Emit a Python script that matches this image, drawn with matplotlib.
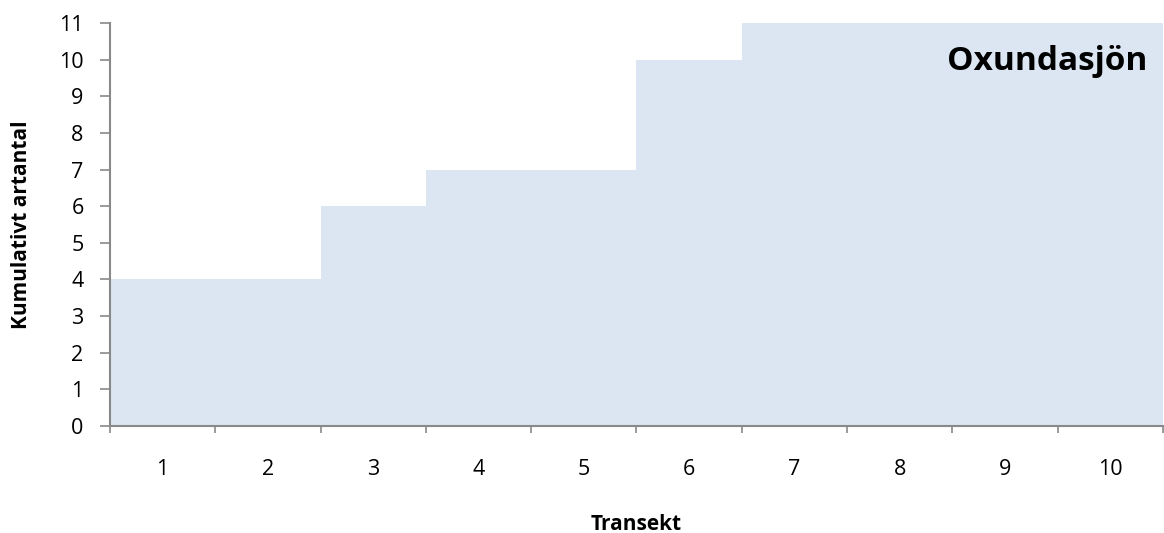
import matplotlib
matplotlib.use("Agg")
import matplotlib.pyplot as plt
import matplotlib.transforms as mtransforms
import numpy as np

plt.rcParams['font.family'] = ['Open Sans', 'DejaVu Sans']

transekt = ["1", "2", "3", "4", "5", "6", "7", "8", "9", "10"]
artantal = [4, 4, 6, 7, 7, 10, 11, 11, 11, 11]
y_ticks = list(range(0, 12))

fig = plt.figure(figsize=(11.64, 5.33), dpi=100)
ax = fig.add_axes([0.0945, 0.2008, 0.9045, 0.756])

x = np.arange(len(transekt))
ax.bar(x, artantal, width=1.0, color="#DCE6F2", edgecolor="none", align="center")

ax.set_xlim(-0.5, len(transekt) - 0.5)
ax.set_ylim(0, 11)
ax.set_yticks(y_ticks)
ax.set_yticklabels([str(v) for v in y_ticks], fontsize=15.5)

ax.set_xticks(x)
ax.set_xticklabels(transekt, fontsize=15.5)
ax.set_xticks(np.arange(len(transekt) + 1) - 0.5, minor=True)
ax.tick_params(axis='x', which='major', length=0, pad=24)
ax.tick_params(axis='x', which='minor', length=5, width=1.2, color="#898989", direction='out')
ax.tick_params(axis='y', length=7, width=1.2, color="#898989", direction='out', pad=12)

for s in ['top', 'right']:
    ax.spines[s].set_visible(False)
for s in ['left', 'bottom']:
    ax.spines[s].set_color("#898989")
    ax.spines[s].set_linewidth(1.5)

ax.set_xlabel("Transekt", fontsize=15, fontweight='bold')
ax.xaxis.label.set_va('baseline')
ax.xaxis.set_label_coords(0.5, 3.5 / 533,
                          transform=mtransforms.blended_transform_factory(ax.transAxes, fig.transFigure))

ax.set_ylabel("Kumulativt artantal", fontsize=15, fontweight='bold')
ax.yaxis.label.set_va('center')
ax.yaxis.label.set_ha('center')
ax.yaxis.set_label_coords(22 / 1164, 0.5,
                          transform=mtransforms.blended_transform_factory(fig.transFigure, ax.transAxes))

ax.text(0.985, 0.905, "Oxundasjön", transform=ax.transAxes, ha='right', va='center',
        fontsize=24, fontweight='bold')

fig.savefig("out.png", dpi=100)
